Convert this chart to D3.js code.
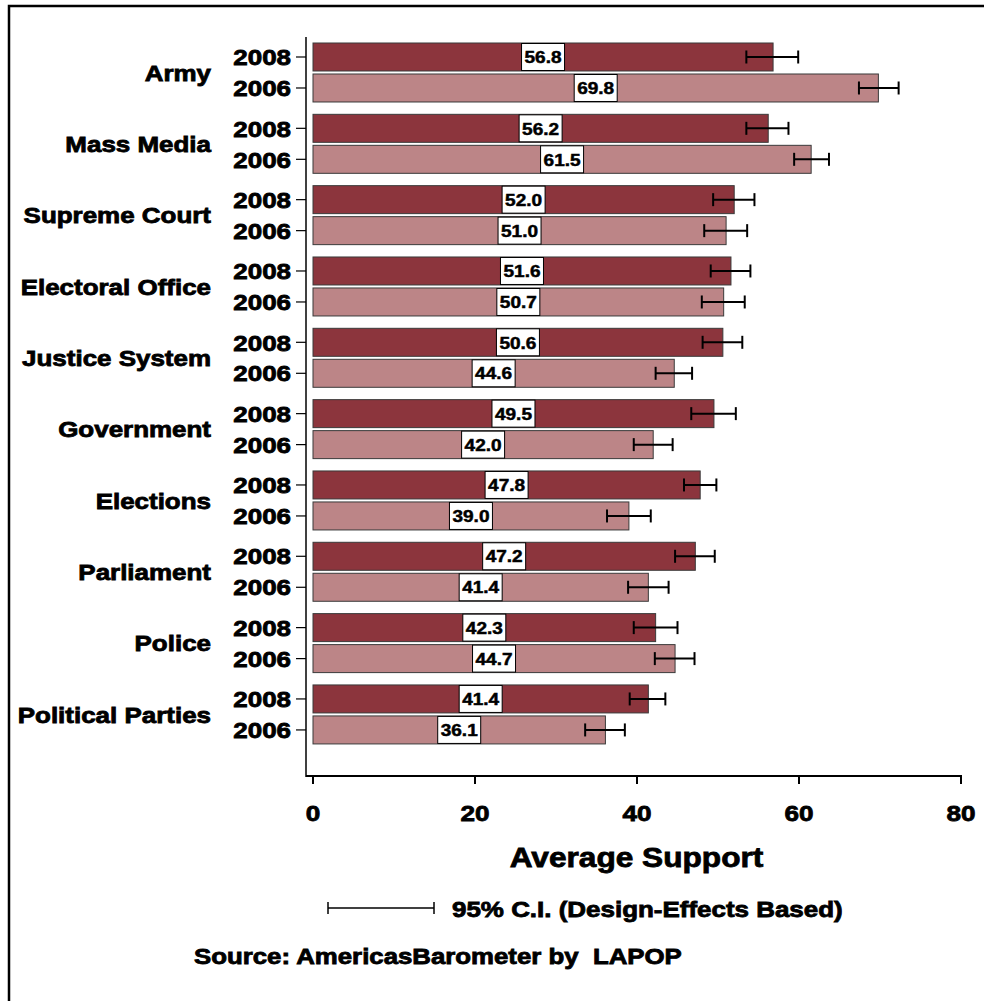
<!DOCTYPE html>
<html><head><meta charset="utf-8">
<script src="https://cdn.jsdelivr.net/npm/d3@7"></script>
<style>html,body{margin:0;padding:0;background:#fff;} text{font-family:"Liberation Sans",Arial,sans-serif;font-weight:bold;}</style>
</head><body>
<svg id="chart" width="984" height="1001"></svg>
<script>
const categories = ["Army","Mass Media","Supreme Court","Electoral Office","Justice System","Government","Elections","Parliament","Police","Political Parties"];
const years = ["2008","2006"];
const values2008 = [56.8,56.2,52.0,51.6,50.6,49.5,47.8,47.2,42.3,41.4];
const values2006 = [69.8,61.5,51.0,50.7,44.6,42.0,39.0,41.4,44.7,36.1];
const ciLow2008 = [53.5,53.5,49.4,49.1,48.1,46.7,45.8,44.7,39.6,39.1];
const ciHigh2008 = [59.9,58.7,54.5,54.0,53.0,52.2,49.8,49.6,45.0,43.5];
const ciLow2006 = [67.4,59.4,48.3,48.0,42.3,39.6,36.3,38.9,42.2,33.6];
const ciHigh2006 = [72.3,63.7,53.6,53.3,46.8,44.4,41.7,43.9,47.1,38.5];
const xTicks = [0,20,40,60,80];
const xTitle = "Average Support";
const legendText = "95% C.I. (Design-Effects Based)";
const sourceText = "Source: AmericasBarometer by  LAPOP";

const rows = [];
categories.forEach((c,i)=>{
  rows.push({cat:c, year:"2008", v:values2008[i], lo:ciLow2008[i], hi:ciHigh2008[i]});
  rows.push({cat:c, year:"2006", v:values2006[i], lo:ciLow2006[i], hi:ciHigh2006[i]});
});

const svg = d3.select("#chart");
function txt(g, x, y, s, size, anchor, sx){
  return g.append("text")
    .attr("transform", `translate(${x},${y}) scale(${sx},1)`)
    .attr("text-anchor", anchor)
    .attr("font-size", size)
    .attr("fill", "#000")
    .attr("stroke", "#000").attr("stroke-width", 0.8)
    .style("white-space","pre")
    .text(s);
}

// frame
svg.append("path").attr("d","M9,1001V6H984").attr("fill","none").attr("stroke","#000").attr("stroke-width",2.5);

const x = d3.scaleLinear().domain([0,80]).range([313,961]);
const y = d3.scaleBand().domain(categories).range([36.83, 750.1]).paddingInner(0.173).paddingOuter(0.0865);
const yy = d3.scaleBand().domain(years).range([0, y.bandwidth()]).paddingInner(0.0968);
const colors = d3.scaleOrdinal().domain(years).range(["#8C353D","#BC8587"]);
const by = d => y(d.cat) + yy(d.year);

// axes lines
const axisX = 306;
svg.append("line").attr("x1",axisX).attr("x2",axisX).attr("y1",37).attr("y2",777).attr("stroke","#000").attr("stroke-width",1.5);
svg.append("line").attr("x1",axisX).attr("x2",962).attr("y1",776).attr("y2",776).attr("stroke","#000").attr("stroke-width",2);
const xt = svg.append("g");
xTicks.forEach(t=>{
  xt.append("line").attr("x1",x(t)).attr("x2",x(t)).attr("y1",776).attr("y2",784).attr("stroke","#000").attr("stroke-width",2);
  txt(xt, x(t), 821, String(t), 22.5, "middle", 1.16);
});

// bars
const g = svg.append("g");
g.selectAll("rect.bar").data(rows).join("rect").attr("class","bar")
  .attr("x", x(0)).attr("y", d=>by(d))
  .attr("width", d=>x(d.v)-x(0)).attr("height", yy.bandwidth())
  .attr("fill", d=>colors(d.year)).attr("stroke","#3a3a3a").attr("stroke-width",1);

// error bars
const cap = 6.5;
rows.forEach(d=>{
  const cy = by(d) + yy.bandwidth()/2;
  g.append("line").attr("x1",x(d.lo)).attr("x2",x(d.hi)).attr("y1",cy).attr("y2",cy).attr("stroke","#000").attr("stroke-width",2);
  [d.lo,d.hi].forEach(v=>g.append("line").attr("x1",x(v)).attr("x2",x(v)).attr("y1",cy-cap).attr("y2",cy+cap).attr("stroke","#000").attr("stroke-width",2));
});

// value labels
rows.forEach(d=>{
  const cx = x(d.v/2), top = by(d);
  const w = 43;
  g.append("rect").attr("x",cx-w/2).attr("y",top+0.5).attr("width",w).attr("height",yy.bandwidth()-1)
    .attr("fill","#fff").attr("stroke","#000").attr("stroke-width",1);
  txt(g, cx, top + yy.bandwidth()/2 + 6.2, d.v.toFixed(1), 17, "middle", 1.12).attr("stroke-width",0.5);
});

// year ticks & labels
rows.forEach(d=>{
  const cy = by(d) + yy.bandwidth()/2;
  svg.append("line").attr("x1",296).attr("x2",axisX).attr("y1",cy).attr("y2",cy).attr("stroke","#000").attr("stroke-width",1.2);
  txt(svg, 291, cy + 8.2, d.year, 22, "end", 1.18);
});

// category labels
categories.forEach(c=>{
  const cy = y(c) + y.bandwidth()/2;
  txt(svg, 211, cy + 8.2, c, 22, "end", 1.18);
});

// x title
txt(svg, 636.5, 867, xTitle, 28, "middle", 1.13);

// legend
svg.append("line").attr("x1",328).attr("x2",434).attr("y1",908).attr("y2",908).attr("stroke","#000").attr("stroke-width",1.5);
[328,434].forEach(v=>svg.append("line").attr("x1",v).attr("x2",v).attr("y1",902).attr("y2",914).attr("stroke","#000").attr("stroke-width",1.5));
txt(svg, 452, 916.5, legendText, 22, "start", 1.18);

// source
txt(svg, 194, 963.5, sourceText, 21.5, "start", 1.2);
</script>
</body></html>
